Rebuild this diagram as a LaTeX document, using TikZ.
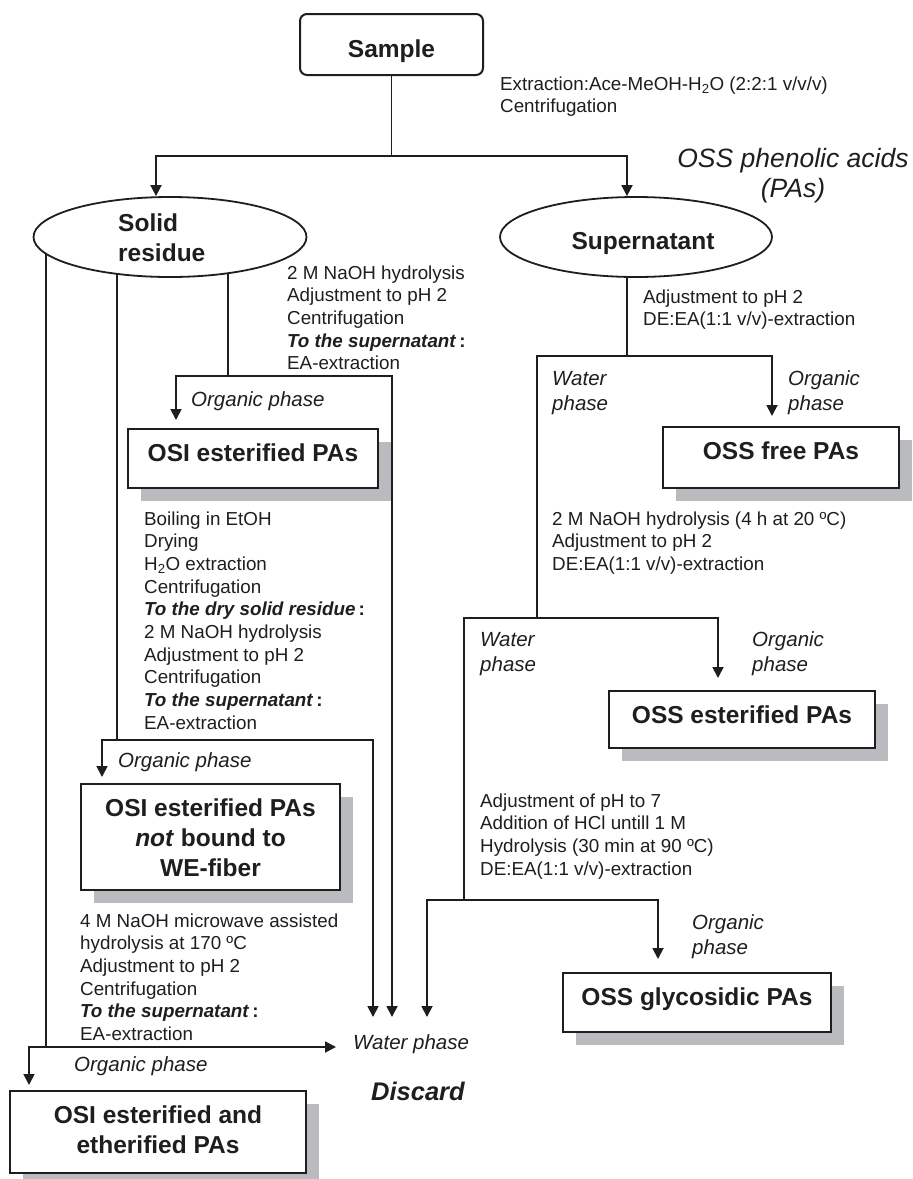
\documentclass[tikz,border=0pt]{standalone}
\usepackage{fontspec}
\setmainfont{Liberation Sans}
\usetikzlibrary{arrows.meta,shapes.geometric,shadows,calc}
\definecolor{shadowgray}{RGB}{186,187,191}
\definecolor{ink}{RGB}{30,30,30}
\pgfdeclarelayer{bg}
\pgfdeclarelayer{conn}
\pgfsetlayers{bg,conn,main}
\newcommand{\lns}[2][l]{\begin{tabular}[t]{@{}#1@{}}#2\end{tabular}}
\begin{document}
\begin{tikzpicture}[x=1pt,y=-1pt,
  line/.style={line width=1.8pt,draw=ink},
  arr/.style={line width=1.8pt,draw=ink,-{Triangle[length=11pt,width=11pt]}},
  body/.style={font=\fontsize{18.8}{22.7}\selectfont,text=ink,anchor=base west,inner sep=0pt},
  lab/.style={font=\fontsize{20.5}{25.5}\selectfont\itshape,text=ink,anchor=base west,inner sep=0pt},
  boxttl/.style={font=\fontsize{24.5}{30}\selectfont\bfseries,text=ink},
  resbox/.style={boxttl,draw=ink,line width=2pt,fill=white,inner sep=0pt,text depth=0pt,
    general shadow={fill=shadowgray,draw=none,shadow xshift=13pt,shadow yshift=-13pt}},
  oval/.style={ellipse,draw=ink,line width=1.8pt,fill=white,inner sep=0pt,minimum width=273pt,minimum height=80pt},
]
\useasboundingbox (0,0) rectangle (913,1179);
\begin{pgfonlayer}{bg}
\fill[white] (0,0) rectangle (913,1179);
\end{pgfonlayer}

% ---------- nodes ----------
\node[boxttl,draw=ink,line width=2pt,rounded corners=7pt,fill=white,minimum width=183pt,minimum height=61pt,inner sep=0pt,text height=25pt,text depth=0pt] (sample) at (391.5,44.5) {Sample};

\node[oval] (sr) at (170,237) {};
\node[oval,minimum width=272pt] (sn) at (636,237) {};
\node[boxttl,anchor=base west,inner sep=0pt] (srt) at (118,231) {\lns{Solid\\residue}};
\node[boxttl,anchor=base,inner sep=0pt] (snt) at (643,249) {Supernatant};

\node[font=\fontsize{26.5}{30}\selectfont\itshape,text=ink,anchor=base,inner sep=0pt] (oss) at (793,167) {\lns[c]{OSS phenolic acids\\(PAs)}};

\node[body] (t0) at (500,90) {\lns{Extraction:Ace-MeOH-H\textsubscript{2}O (2:2:1 v/v/v)\\Centrifugation}};

\node[resbox,minimum width=250pt,minimum height=59pt,text height=5pt] (osi1) at (253,458.5) {OSI esterified PAs};
\node[resbox,minimum width=259pt,minimum height=106pt,text height=0pt,text depth=42pt] (osi2) at (210.5,837) {\lns[c]{OSI esterified PAs\\\textit{not} bound to\\WE-fiber}};
\node[resbox,minimum width=296pt,minimum height=82pt,text height=0pt,text depth=18pt] (osi3) at (158,1132) {\lns[c]{OSI esterified and\\etherified PAs}};
\node[resbox,minimum width=236pt,minimum height=61pt,text height=3pt] (free) at (781,457.5) {OSS free PAs};
\node[resbox,minimum width=266pt,minimum height=57pt,text height=7pt] (ester) at (742,719.5) {OSS esterified PAs};
\node[resbox,minimum width=268pt,minimum height=59pt,text height=5pt] (glyc) at (697,1002.5) {OSS glycosidic PAs};

\node[body] (t1) at (287,279) {\lns{2 M NaOH hydrolysis\\Adjustment to pH 2\\Centrifugation\\\textbf{\textit{To the supernatant}\,:}\\EA-extraction}};
\node[body] (t2) at (144,525) {\lns{Boiling in EtOH\\Drying\\H\textsubscript{2}O extraction\\Centrifugation\\\textbf{\textit{To the dry solid residue}\,:}\\2 M NaOH hydrolysis\\Adjustment to pH 2\\Centrifugation\\\textbf{\textit{To the supernatant}\,:}\\EA-extraction}};
\node[body] (t3) at (80,927) {\lns{4 M NaOH microwave assisted\\hydrolysis at 170 ºC\\Adjustment to pH 2\\Centrifugation\\\textbf{\textit{To the supernatant}\,:}\\EA-extraction}};
\node[body] (t4) at (643,303) {\lns{Adjustment to pH 2\\DE:EA(1:1 v/v)-extraction}};
\node[body] (t5) at (552,525) {\lns{2 M NaOH hydrolysis (4 h at 20 ºC)\\Adjustment to pH 2\\DE:EA(1:1 v/v)-extraction}};
\node[body] (t6) at (480,807) {\lns{Adjustment of pH to 7\\Addition of HCl untill 1 M\\Hydrolysis (30 min at 90 ºC)\\DE:EA(1:1 v/v)-extraction}};

\node[lab] (o1) at (191,406) {Organic phase};
\node[lab] (o2) at (118,767) {Organic phase};
\node[lab] (o3) at (74,1071) {Organic phase};
\node[lab] (w1) at (552,385) {\lns{Water\\phase}};
\node[lab] (g1) at (788,385) {\lns{Organic\\phase}};
\node[lab] (w2) at (480,646) {\lns{Water\\phase}};
\node[lab] (g2) at (752,646) {\lns{Organic\\phase}};
\node[lab] (g3) at (692,929) {\lns{Organic\\phase}};
\node[lab] (wp) at (353,1049) {Water phase};
\node[font=\fontsize{25.5}{30}\selectfont\bfseries\itshape,text=ink,anchor=base west,inner sep=0pt] (dis) at (371,1100) {Discard};

% ---------- connectors ----------
\coordinate (j0) at (391.5,156);
\coordinate (a0) at (228,237);
\coordinate (jA) at (228,376);
\coordinate (b0) at (117,237);
\coordinate (jB) at (117,740);
\coordinate (c0) at (46,237);
\coordinate (jC) at (46,1047);
\coordinate (wl) at (336,1047);
\coordinate (d1) at (373,1017);
\coordinate (d2) at (392,1017);
\coordinate (d3) at (427,1017);
\coordinate (s0) at (627,237);
\coordinate (jD) at (627,356);
\coordinate (jE) at (537,618);
\coordinate (jF) at (464,900);

\begin{pgfonlayer}{conn}
\draw[line] (sample.south) -- (j0);
\draw[arr] (j0) -| ([xshift=-14pt]sr.north);
\draw[arr] (j0) -| ([xshift=-9pt]sn.north);

\draw[line] (a0) -- (jA);
\draw[arr,shorten >=8pt] (jA) -| ([xshift=-77pt]osi1.north);
\draw[arr] (jA) -| (d2);

\draw[line] (b0) -- (jB);
\draw[arr,shorten >=6pt] (jB) -| ([xshift=-108.5pt]osi2.north);
\draw[arr] (jB) -| (d1);

\draw[line] (c0) -- (jC);
\draw[arr] (jC) -- (wl);
\draw[arr,shorten >=5pt] (jC) -| ([xshift=-129pt]osi3.north);

\draw[line] (s0) -- (jD);
\draw[arr,shorten >=10pt] (jD) -| ([xshift=-9pt]free.north);
\draw[line] (jD) -| (jE);
\draw[arr,shorten >=12pt] (jE) -| ([xshift=-24pt]ester.north);
\draw[line] (jE) -| (jF);
\draw[arr,shorten >=13pt] (jF) -| ([xshift=-39pt]glyc.north);
\draw[arr] (jF) -| (d3);
\end{pgfonlayer}
\end{tikzpicture}
\end{document}
